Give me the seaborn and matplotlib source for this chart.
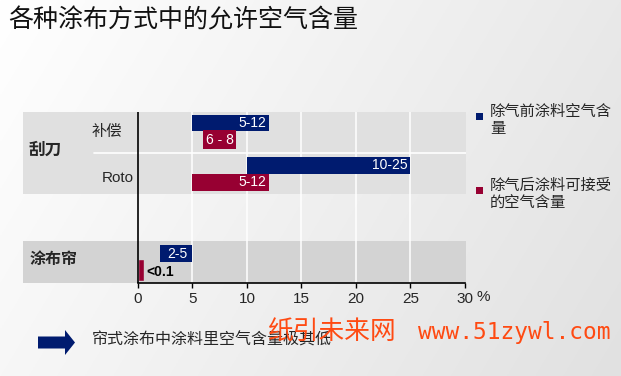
import numpy as np
import matplotlib
matplotlib.use("Agg")
import matplotlib.pyplot as plt
import seaborn as sns
from matplotlib.patches import Rectangle, FancyArrow

# ---- data -------------------------------------------------------------
methods = ["补偿", "Roto", "涂布帘"]
before_low = [5, 10, 2]
before_high = [12, 25, 5]
after_low = [6, 5, 0]
after_high = [8, 12, 0.1]
before_labels = ["5-12", "10-25", "2-5"]
after_labels = ["6 - 8", "5-12", "<0.1"]
xticks = [0, 5, 10, 15, 20, 25, 30]
xtick_labels = ["0", "5", "10", "15", "20", "25", "30"]
legend_labels = ["除气前涂料空气含\n量", "除气后涂料可接受\n的空气含量"]

# ---- style ------------------------------------------------------------
sns.set_theme(style="white")
plt.rcParams["font.family"] = ["Liberation Sans", "Noto Sans CJK SC", "DejaVu Sans"]
NAVY = "#001b6f"
MAROON = "#970032"
PANEL_TOP = "#e0e0e0"
PANEL_BOTTOM = "#d3d3d3"
colors = sns.color_palette([NAVY, MAROON])

W, H = 621, 376
fig = plt.figure(figsize=(W / 100, H / 100), dpi=100)

# soft grey gradient behind everything
bg = fig.add_axes([0, 0, 1, 1], zorder=-10)
gx, gy = np.meshgrid(np.linspace(0, 1, 300), np.linspace(0, 1, 200))
shade = (255 - 22 * gx - 8 * gy) / 255
bg.imshow(np.dstack([shade] * 3), extent=[0, 1, 0, 1], aspect="auto", origin="upper")
bg.set_axis_off()

# main axes spans the grey panels (x from -10.55 to 30.1 in data units)
px = lambda p: p / W
py = lambda p: 1 - p / H
ax = fig.add_axes([px(23), py(282.5), px(466) - px(23), py(112) - py(282.5)])
ax.set_facecolor("none")
ax.set_xlim(-10.55, 30.1)
ylo, yhi = 3.56, -0.46
ax.set_ylim(ylo, yhi)

rows = [0, 1, 3.08]
off, bh = 0.2, 0.39

# grey panels
ax.add_patch(Rectangle((-10.55, -0.46), 40.65, 1.934, fc=PANEL_TOP, ec="none", zorder=0))
ax.add_patch(Rectangle((-10.55, 2.575), 40.65, 0.99, fc=PANEL_BOTTOM, ec="none", zorder=0))

# white vertical grid lines and row separator
for t in xticks[1:-1]:
    ax.axvline(t, color="white", lw=1.1, zorder=1)
ax.axhline(0.5, xmin=0.16, xmax=1, color="white", lw=1.2, zorder=1)

# floating range bars
for i, r in enumerate(rows):
    ax.barh(r - off, before_high[i] - before_low[i], left=before_low[i], height=bh,
            color=colors[0], edgecolor="none", linewidth=0, zorder=3)
    tiny = after_high[i] - after_low[i] < 0.5
    ax.barh(r + off, after_high[i] - after_low[i], left=after_low[i] + (0.3 if tiny else 0),
            height=bh, color=colors[1], edgecolor=colors[1] if tiny else "none",
            linewidth=2.6 if tiny else 0, zorder=5)

# labels on bars
ax.text(before_high[0] - 0.2, rows[0] - off, before_labels[0], color="white", fontsize=10,
        ha="right", va="center", zorder=6)
ax.text((after_low[0] + after_high[0]) / 2 + 0.5, rows[0] + off, after_labels[0], color="white",
        fontsize=10, ha="center", va="center", zorder=6,
        bbox=dict(boxstyle="square,pad=0.18", fc=MAROON, ec="none"))
ax.text(before_high[1] - 0.3, rows[1] - off, before_labels[1], color="white", fontsize=10,
        ha="right", va="center", zorder=6)
ax.text(after_high[1] - 0.2, rows[1] + off, after_labels[1], color="white", fontsize=10,
        ha="right", va="center", zorder=6)
ax.text((before_low[2] + before_high[2]) / 2 + 0.1, rows[2] - off, before_labels[2], color="white",
        fontsize=10, ha="center", va="center", zorder=6)
ax.text(after_high[2] + 0.65, rows[2] + off + 0.03, after_labels[2], color="black", fontsize=10,
        fontweight="bold", ha="left", va="center", zorder=6)

# row / group labels
ax.text(-2.85, rows[0] + 0.01, methods[0], fontsize=11, ha="center", va="center")
ax.text(-1.88, rows[1] + 0.09, methods[1], fontsize=11, ha="center", va="center")
ax.text(-8.52, 0.435, "刮刀", fontsize=12, fontweight="bold", ha="center", va="center")
ax.text(-7.7, rows[2] - 0.06, methods[2], fontsize=11.5, fontweight="bold", ha="center", va="center")

# axes lines and ticks
ax.axvline(0, color="black", lw=1.2, zorder=4)
for s in ["left", "right", "top"]:
    ax.spines[s].set_visible(False)
ax.spines["bottom"].set_bounds(0, 30)
ax.spines["bottom"].set_color("black")
ax.spines["bottom"].set_linewidth(1.2)
ax.set_yticks([])
ax.set_xticks(xticks)
ax.set_xticklabels(xtick_labels, fontsize=11)
ax.tick_params(axis="x", direction="out", length=3.5, width=1, color="black", pad=3,
               bottom=True)
ax.annotate("%", xy=(30, 0), xycoords=("data", "axes fraction"), xytext=(8, -5.5),
            textcoords="offset points", ha="left", va="top", fontsize=11)

# legend on the right
for (ys, lbl, c) in [(113, legend_labels[0], NAVY), (187, legend_labels[1], MAROON)]:
    fig.patches.append(Rectangle((px(476), py(ys + 7)), 7 / W, 7 / H, fc=c, ec="none",
                                 transform=fig.transFigure, figure=fig))
    fig.text(px(490), py(ys - 8), lbl, fontsize=11, ha="left", va="top", linespacing=1.3)

# title
fig.text(px(8), py(20), "各种涂布方式中的允许空气含量", fontsize=18, ha="left", va="center",
         color="#111111")

# note with arrow
fig.patches.append(FancyArrow(px(38), py(342.5), px(27), 0, width=12 / H, head_width=25 / H,
                              head_length=10 / W, length_includes_head=False, fc=NAVY, ec="none",
                              transform=fig.transFigure, figure=fig))
fig.text(px(92), py(340), "帘式涂布中涂料里空气含量极其低", fontsize=11.5, ha="left", va="center")

# site mark
fig.text(px(268), py(333), "纸引未来网", fontsize=18.5, color="#ff4a12", ha="left", va="center",
         family=["Noto Sans CJK SC"])
fig.text(px(418), py(333), "www.51zywl.com", fontsize=16.5, color="#ff4a12", ha="left",
         va="center", family=["DejaVu Sans Mono"])

fig.savefig("out.png", dpi=100)
